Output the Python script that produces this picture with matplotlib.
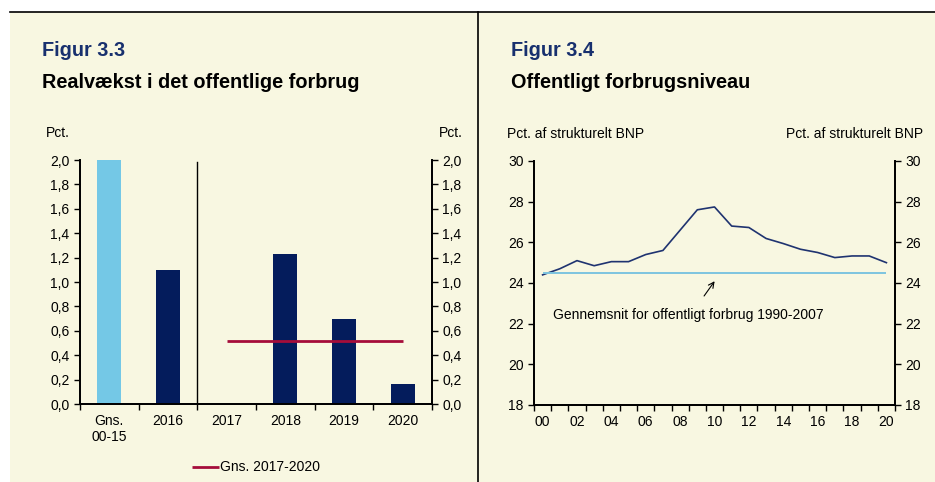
import matplotlib.pyplot as plt
from matplotlib.patches import Rectangle
from matplotlib.lines import Line2D

plt.rcParams["font.family"] = ["Liberation Sans", "DejaVu Sans"]

# Figur 3.3 data
categories = ["Gns.\n00-15", "2016", "2017", "2018", "2019", "2020"]
growth = [2.0, 1.1, 0.0, 1.23, 0.70, 0.16]
avg_1720 = 0.52
left_ticks = [0.0, 0.2, 0.4, 0.6, 0.8, 1.0, 1.2, 1.4, 1.6, 1.8, 2.0]

# Figur 3.4 data
years = list(range(2000, 2021))
level = [24.4, 24.7, 25.1, 24.85, 25.05, 25.05, 25.4, 25.6, 26.6, 27.6, 27.74,
         26.8, 26.73, 26.19, 25.94, 25.66, 25.5, 25.25, 25.33, 25.33, 25.0]
avg_9007 = 24.47
right_ticks = [18, 20, 22, 24, 26, 28, 30]

beige = "#F8F7E1"
navy = "#041C5C"
lightblue = "#74C8E6"
red = "#A50D3A"
title_blue = "#18306E"

W, H = 935, 482
fig = plt.figure(figsize=(W / 100, H / 100), dpi=100)
fig.patch.set_facecolor("white")

def fx(px):
    return px / W

def fy(py):
    return 1 - py / H

# background panel and frame lines
fig.patches.append(Rectangle((fx(10), 0), 1 - fx(10), fy(12), transform=fig.transFigure,
                             facecolor=beige, edgecolor="none", zorder=-5))
fig.lines.append(Line2D([fx(10), 1], [fy(12), fy(12)], transform=fig.transFigure, color="black", lw=1.2))
fig.lines.append(Line2D([fx(478), fx(478)], [0, fy(12)], transform=fig.transFigure, color="black", lw=1.2))

# titles
fig.text(fx(42), fy(50), "Figur 3.3", fontsize=14.3, fontweight="bold", color=title_blue, va="center")
fig.text(fx(42), fy(83), "Realvækst i det offentlige forbrug", fontsize=14.3, fontweight="bold", va="center")
fig.text(fx(511), fy(50), "Figur 3.4", fontsize=14.3, fontweight="bold", color=title_blue, va="center")
fig.text(fx(511), fy(83), "Offentligt forbrugsniveau", fontsize=14.3, fontweight="bold", va="center")

fig.text(fx(46), fy(133), "Pct.", fontsize=10, va="center")
fig.text(fx(463), fy(133), "Pct.", fontsize=10, va="center", ha="right")
fig.text(fx(507), fy(134), "Pct. af strukturelt BNP", fontsize=10, va="center")
fig.text(fx(923), fy(134), "Pct. af strukturelt BNP", fontsize=10, va="center", ha="right")


def style_axes(ax):
    ax.set_facecolor("none")
    ax.spines["top"].set_visible(False)
    for s in ["left", "right", "bottom"]:
        ax.spines[s].set_linewidth(1.3)
    ax.tick_params(which="both", direction="out", length=4, width=1, labelsize=10)


# ---- left chart
ax1 = fig.add_axes([fx(80), fy(404), fx(352), 244 / H])
style_axes(ax1)
x = range(len(categories))
colors = [lightblue] + [navy] * (len(categories) - 1)
ax1.bar(x, growth, width=0.41, color=colors, zorder=2)
ax1.axvline(1.5, ymax=0.99, color="black", lw=1)
ax1.hlines(avg_1720, 2, 5, color=red, lw=2, zorder=3, label="Gns. 2017-2020")
ax1.set_xlim(-0.5, len(categories) - 0.5)
ax1.set_ylim(0, 2)
ax1.set_yticks(left_ticks)
ax1.set_yticklabels([f"{v:.1f}".replace(".", ",") for v in left_ticks])
ax1.set_xticks(list(x))
ax1.set_xticklabels(categories)
ax1.set_xticks([i - 0.5 for i in range(len(categories) + 1)], minor=True)
ax1.tick_params(axis="x", which="major", length=0, pad=7)
ax1.tick_params(axis="x", which="minor", length=4)
ax1r = ax1.twinx()
style_axes(ax1r)
ax1r.set_ylim(0, 2)
ax1r.set_yticks(left_ticks)
ax1r.set_yticklabels([f"{v:.1f}".replace(".", ",") for v in left_ticks])
ax1.legend(loc="center", bbox_to_anchor=(0.5, -0.26), frameon=False, fontsize=10,
           handlelength=1.9, handletextpad=0.1)

# ---- right chart
ax2 = fig.add_axes([fx(534), fy(405), fx(361), 244 / H])
style_axes(ax2)
xs = [y - 2000 for y in years]
ax2.plot(xs, level, color="#1F3370", lw=1.2)
ax2.hlines(avg_9007, xs[0], xs[-1], color="#7DC4DF", lw=1.4)
ax2.set_xlim(-0.5, 20.5)
ax2.set_ylim(18, 30)
ax2.set_yticks(right_ticks)
even = [y for y in years if y % 2 == 0]
ax2.set_xticks([y - 2000 for y in even])
ax2.set_xticklabels([f"{y % 100:02d}" for y in even])
ax2.set_xticks([i - 0.5 for i in range(22)], minor=True)
ax2.tick_params(axis="x", which="major", length=0, pad=7)
ax2.tick_params(axis="x", which="minor", length=4)
ax2r = ax2.twinx()
style_axes(ax2r)
ax2r.set_ylim(18, 30)
ax2r.set_yticks(right_ticks)
ax2.annotate("", xy=(10.1, 24.2), xytext=(9.3, 23.25),
             arrowprops=dict(arrowstyle="->", color="black", lw=0.8))
ax2.text(8.5, 22.45, "Gennemsnit for offentligt forbrug 1990-2007", fontsize=10,
         ha="center", va="center")

fig.savefig("out.png", dpi=100)
